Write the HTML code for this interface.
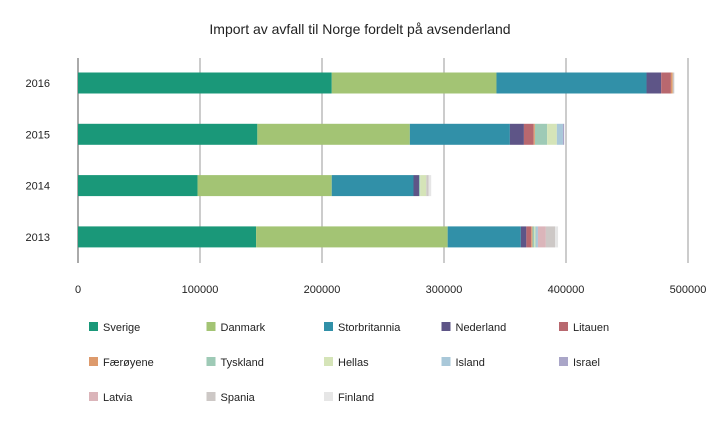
<!DOCTYPE html>
<html><head><meta charset="utf-8"><style>
body{margin:0;background:#fff;font-family:"Liberation Sans",sans-serif;}
svg text{font-family:"Liberation Sans",sans-serif;fill:#222;}
</style></head><body>
<svg id="c" width="719" height="425">
<text x="360" y="34" text-anchor="middle" font-size="14">Import av avfall til Norge fordelt på avsenderland</text>
</svg>
<script>
const years=["2016","2015","2014","2013"];
const countries=["Sverige","Danmark","Storbritannia","Nederland","Litauen","Færøyene","Tyskland","Hellas","Island","Israel","Latvia","Spania","Finland"];
const colors=["#1a9879","#a3c474","#3190a8","#5e5587","#b8686f","#dd9a6c","#9ecab6","#d5e4b8","#a9c8d9","#aaa6c8","#dbb5ba","#cdc8c6","#e6e6e6"];
const v2016=[208000,135000,123000,12000,8000,1500,0,0,0,0,0,1000,500];
const v2015=[147000,125000,82000,11500,8000,1000,10000,8000,5000,1000,0,0,0];
const v2014=[98000,110000,67000,4500,0,0,1000,5000,0,0,0,2000,2000];
const v2013=[146000,157000,60000,4500,4000,1000,1500,1000,2000,0,6500,7500,2500];
const values=[v2016,v2015,v2014,v2013];
const ticks=[0,100000,200000,300000,400000,500000];
const svg=document.getElementById('c');const NS="http://www.w3.org/2000/svg";
const x=v=>78+v*122/100000;
const yc=i=>83+i*51.3;
function mk(t,a){const e=document.createElementNS(NS,t);for(const k in a)e.setAttribute(k,a[k]);svg.appendChild(e);return e;}
ticks.forEach((t,i)=>{
 const l=mk('line',{x1:x(t),x2:x(t),y1:58,y2:263,stroke:i==0?'#555':'#999','stroke-width':1});
 
 
 const tx=mk('text',{x:x(t),y:293,'text-anchor':'middle','font-size':11});tx.textContent=t;
 
 
});
years.forEach((yr,i)=>{
 const t=mk('text',{x:50,y:yc(i)+4,'text-anchor':'end','font-size':11});t.textContent=yr;
 
 
 let acc=0;
 values[i].forEach((v,j)=>{
  if(v<=0)return;
  const r=mk('rect',{x:x(acc),y:yc(i)-10.5,width:x(acc+v)-x(acc),height:21,fill:colors[j]});
  
  
  acc+=v;
 });
});
countries.forEach((c,j)=>{
 const col=j%5,row=Math.floor(j/5);
 const lx=89+col*117.5,ly=327+row*35;
 const r=mk('rect',{x:lx,y:ly-5,width:9,height:9,fill:colors[j]});
 
 
 const t=mk('text',{x:lx+14,y:ly+4,'font-size':11});t.textContent=c;
 
 
});
</script>
</body></html>
